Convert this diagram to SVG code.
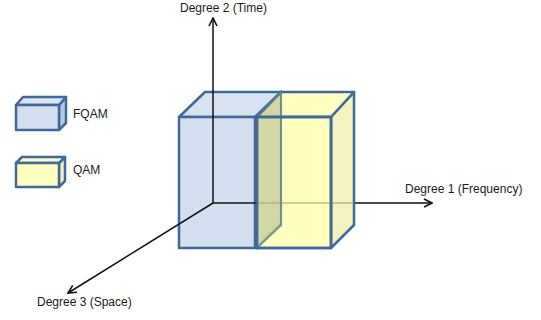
<svg xmlns="http://www.w3.org/2000/svg" width="541" height="320" viewBox="0 0 541 320">
<style>
.lbl{font-family:"Liberation Sans",Arial,sans-serif;font-size:12px;fill:#1a1a1a}
.edge{stroke:#41689B;stroke-width:2.5;stroke-linejoin:round}
.axis{stroke:#111;stroke-width:1.5;fill:none}
</style>
<defs>
<marker id="arr" viewBox="0 0 10 10" refX="9" refY="5" markerWidth="10" markerHeight="10" markerUnits="userSpaceOnUse" orient="auto">
<path d="M1,1 L9,5 L1,9" fill="none" stroke="#111" stroke-width="1.6"/>
</marker>
</defs>
<rect width="541" height="320" fill="#fff"/>
<g id="fqam-box">
<polygon class="edge" points="255,117 281,92 281,224 255,248" fill="#B9C8E0"/>
<polygon class="edge" points="179,117 205,92 281,92 255,117" fill="#DAE3F1"/>
<rect class="edge" x="179" y="117" width="76" height="131" fill="#D3DEEE"/>
</g>
<g id="connectors">
<line class="axis" x1="213" y1="203" x2="213" y2="18" marker-end="url(#arr)"/>
<line class="axis" x1="213" y1="203" x2="432" y2="203" marker-end="url(#arr)"/>
<line class="axis" x1="213" y1="203" x2="68" y2="293" marker-end="url(#arr)"/>
</g>
<g id="qam-box">
<polygon class="edge" points="331,117 354,92 354,225 331,248" fill="#EFEFA8" fill-opacity="0.75"/>
<polygon class="edge" points="257,117 281,92 354,92 331,117" fill="#FFFFA8" fill-opacity="0.72"/>
<rect class="edge" x="257" y="117" width="74" height="131" fill="#FFFFA6" fill-opacity="0.72"/>
<polygon points="257,117 281,92 281,225 257,248" fill="#96A078" fill-opacity="0.3" stroke="#5E7E8A" stroke-width="2" stroke-opacity="0.8"/>
<rect class="edge" x="257" y="117" width="74" height="131" fill="none"/>
</g>
<g id="legend-fqam">
<polygon class="edge" points="59,105 66,97 66,123 59,130" fill="#B9C8E0"/>
<polygon class="edge" points="16,105 23,97 66,97 59,105" fill="#DAE3F1"/>
<rect class="edge" x="16" y="105" width="43" height="25" fill="#D3DEEE"/>
<text class="lbl" x="73" y="118">FQAM</text>
</g>
<g id="legend-qam">
<polygon class="edge" points="59,163 65,157 65,181 59,187" fill="#F2F2C0"/>
<polygon class="edge" points="16,163 22,157 65,157 59,163" fill="#FFFFC8"/>
<rect class="edge" x="16" y="163" width="43" height="24" fill="#FFFFC0"/>
<text class="lbl" x="73" y="174">QAM</text>
</g>
<g id="labels">
<text class="lbl" x="180" y="12">Degree 2 (Time)</text>
<text class="lbl" x="405" y="193">Degree 1 (Frequency)</text>
<text class="lbl" x="37" y="306">Degree 3 (Space)</text>
</g>
</svg>
